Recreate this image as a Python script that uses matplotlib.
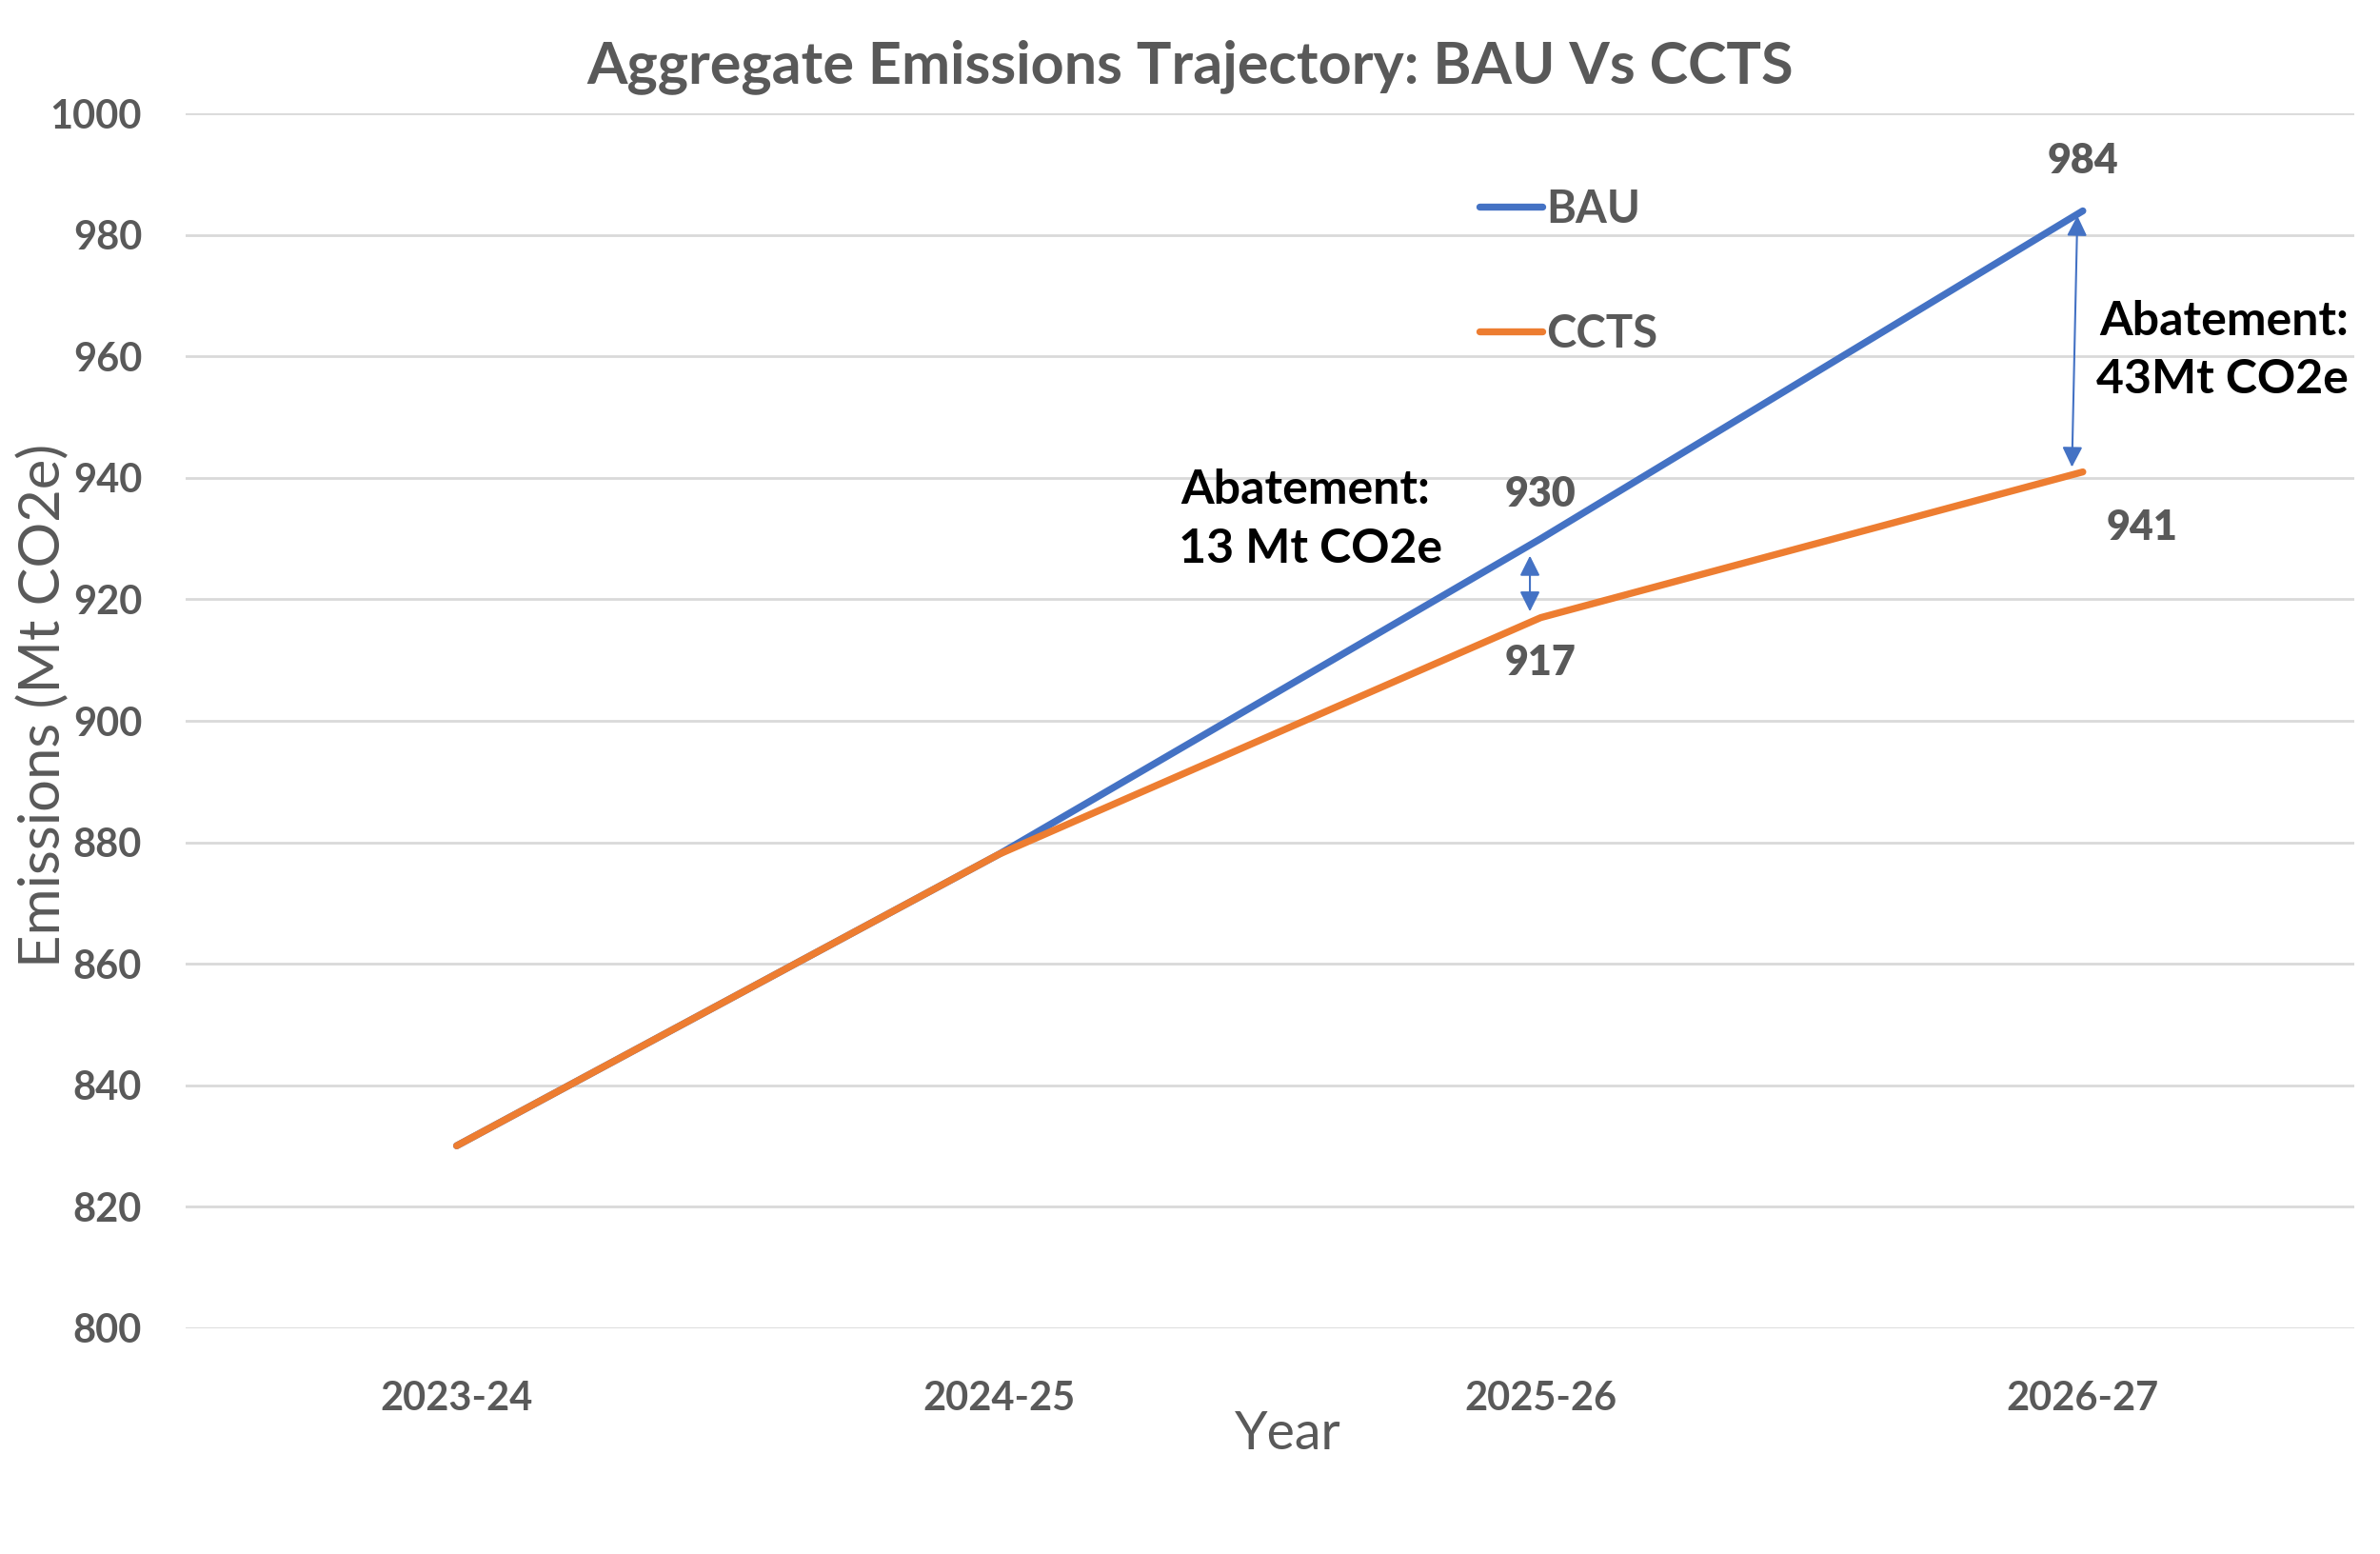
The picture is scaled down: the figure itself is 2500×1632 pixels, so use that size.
import numpy as np
import matplotlib
matplotlib.use("Agg")
import matplotlib.pyplot as plt

plt.rcParams['font.family'] = ['Lato', 'DejaVu Sans']

# data
years = ['2023-24', '2024-25', '2025-26', '2026-27']
bau = [830, 878, 930, 984]
ccts = [830, 878, 917, 941]
# which points carry a data label, and where (offset in points)
bau_labels = {2: (0, 34), 3: (0, 38)}
ccts_labels = {2: (0, -34), 3: (45, -42)}

y_ticks = np.arange(800, 1001, 20)

blue = '#4472C4'
orange = '#ED7D31'
grey = '#595959'

fig = plt.figure(figsize=(25, 16.32), dpi=100)
ax = fig.add_axes([0.078, 0.1455, 0.911, 0.7813])

x = np.arange(len(years))
ax.plot(x, bau, color=blue, lw=5.3, solid_capstyle='round', label='BAU', zorder=3)
ax.plot(x, ccts, color=orange, lw=5.3, solid_capstyle='round', label='CCTS', zorder=3)

ax.set_xlim(-0.5, len(years) - 0.5)
ax.set_ylim(800, 1000)
ax.set_yticks(y_ticks)
ax.set_xticks(x)
ax.set_xticklabels(years)
ax.grid(axis='y', color='#D9D9D9', lw=2)
ax.set_axisbelow(True)
for s in ax.spines.values():
    s.set_visible(False)
ax.tick_params(axis='both', length=0, labelcolor=grey, labelsize=30)
ax.tick_params(axis='y', pad=33)
ax.tick_params(axis='x', pad=40)
for t in ax.get_xticklabels() + ax.get_yticklabels():
    t.set_fontweight('bold')

# data labels
for i, (dx, dy) in bau_labels.items():
    ax.annotate(str(bau[i]), (x[i], bau[i]), xytext=(dx, dy), textcoords='offset points',
                ha='center', va='center', fontsize=31, fontweight='heavy', color=grey)
for i, (dx, dy) in ccts_labels.items():
    ax.annotate(str(ccts[i]), (x[i], ccts[i]), xytext=(dx, dy), textcoords='offset points',
                ha='center', va='center', fontsize=31, fontweight='heavy', color=grey)

# abatement arrows
ax.annotate('', xy=(x[2] - 0.02, ccts[2] + 1.0), xytext=(x[2] - 0.02, bau[2] - 2.8),
            arrowprops=dict(arrowstyle='<|-|>', color=blue, lw=1.5, mutation_scale=32,
                            shrinkA=0, shrinkB=0))
ax.annotate('', xy=(x[3] - 0.02, ccts[3] + 0.8), xytext=(x[3] - 0.01, bau[3] - 0.8),
            arrowprops=dict(arrowstyle='<|-|>', color=blue, lw=1.5, mutation_scale=32,
                            shrinkA=0, shrinkB=0))

ax.text(1.565, 933.2, 'Abatement:\n 13 Mt CO2e', ha='center', va='center', fontsize=36,
        fontweight='bold', color='black', linespacing=1.45)
ax.text(3.49, 961, 'Abatement:\n43Mt CO2e', ha='right', va='center', fontsize=36,
        fontweight='bold', color='black', linespacing=1.45, multialignment='right')

leg = ax.legend(loc='upper left', bbox_to_anchor=(0.578, 0.972), frameon=False,
                fontsize=34, handlelength=1.4, handletextpad=0.08, labelspacing=1.85)
for t in leg.get_texts():
    t.set_color(grey)
    t.set_fontweight('bold')

fig.text(0.5, 0.957, 'Aggregate Emissions Trajectory: BAU Vs CCTS', ha='center', va='center',
         fontsize=44, fontweight='bold', color=grey)
fig.text(0.541, 0.077, 'Year', ha='center', va='center', fontsize=40, color=grey)
fig.text(0.018, 0.546, 'Emissions (Mt CO2e)', ha='center', va='center', fontsize=43,
         color=grey, rotation=90)

fig.savefig('out.png', dpi=100)
